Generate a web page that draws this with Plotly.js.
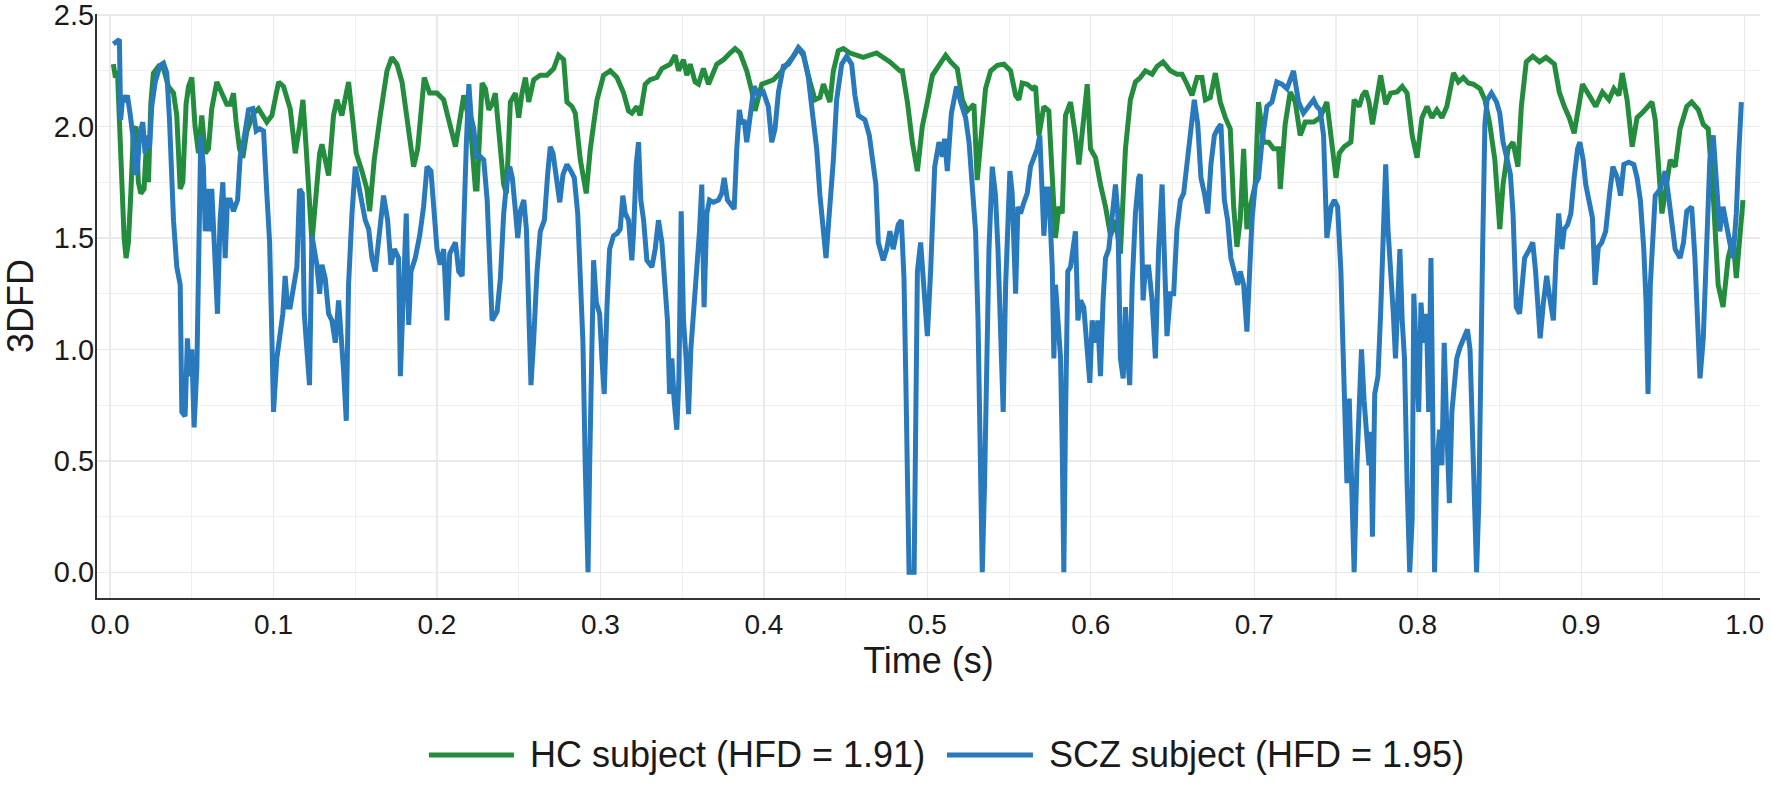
<!DOCTYPE html>
<html>
<head>
<meta charset="utf-8">
<script src="https://cdn.plot.ly/plotly-3.0.1.min.js"></script>
<style>
  html, body { margin: 0; padding: 0; background: #ffffff; }
  #chart { width: 1772px; height: 785px; }
</style>
</head>
<body>
<div id="chart"></div>
<script>
// ---- data: [time (s), 3DFD] ----
const seriesNames = ['HC subject (HFD = 1.91)', 'SCZ subject (HFD = 1.95)'];
const seriesColors = ['#238c3d', '#2979bd'];

const hcPoints = [
[0.002,2.28],[0.0033,2.22],[0.0045,2.25],[0.0057,2.00],[0.0071,1.75],[0.0086,1.50],[0.0098,1.41],[0.0112,1.48],[0.0127,1.70],[0.0143,1.98],
[0.0159,2.00],[0.0173,1.75],[0.0188,1.70],[0.0208,1.72],[0.0224,1.95],[0.0235,1.75],[0.0249,2.10],[0.0265,2.24],[0.0296,2.27],[0.0327,2.26],
[0.0357,2.18],[0.0388,2.15],[0.0408,2.05],[0.0429,1.72],[0.0445,1.75],[0.0465,2.10],[0.048,2.18],[0.05,2.22],[0.052,2.00],[0.0541,1.88],
[0.0561,2.05],[0.0582,1.88],[0.0602,1.90],[0.0622,2.08],[0.0653,2.20],[0.0684,2.15],[0.0714,2.10],[0.0735,2.10],[0.0755,2.15],[0.0771,2.02],
[0.0792,1.90],[0.0812,1.86],[0.0837,1.98],[0.0878,2.06],[0.0908,2.08],[0.0959,2.02],[0.099,2.05],[0.1031,2.20],[0.1061,2.18],[0.1102,2.08],
[0.1133,1.88],[0.1159,2.00],[0.118,2.12],[0.12,1.90],[0.122,1.62],[0.1235,1.48],[0.1255,1.65],[0.1282,1.88],[0.1296,1.92],[0.1316,1.85],
[0.1337,1.78],[0.1367,2.05],[0.1388,2.12],[0.1418,2.05],[0.1439,2.12],[0.1459,2.20],[0.1486,2.02],[0.1506,1.88],[0.1541,1.80],[0.1571,1.72],
[0.1588,1.62],[0.1616,1.85],[0.1653,2.05],[0.1694,2.25],[0.1724,2.31],[0.1755,2.28],[0.1786,2.20],[0.182,2.02],[0.1857,1.82],[0.1882,1.90],
[0.1902,2.05],[0.1922,2.22],[0.1955,2.15],[0.2,2.15],[0.2041,2.12],[0.2078,2.02],
[0.2113,1.91],[0.2164,2.14],[0.2205,2.00],[0.2235,1.72],[0.2245,1.72],[0.2276,2.195],[0.2296,2.17],[0.2317,2.075],[0.2337,2.10],[0.2357,2.15],
[0.2388,1.93],[0.2408,1.74],[0.2425,1.70],[0.2449,2.11],[0.248,2.15],[0.25,2.04],[0.252,2.15],[0.2541,2.22],[0.2561,2.11],[0.2592,2.21],
[0.2632,2.23],[0.2673,2.23],[0.2714,2.26],[0.2744,2.32],[0.2775,2.30],[0.2795,2.11],[0.2826,2.09],[0.2846,2.06],[0.2877,1.85],[0.2897,1.76],
[0.2913,1.70],[0.2938,1.90],[0.2979,2.12],[0.3019,2.23],[0.306,2.25],[0.3101,2.22],[0.3121,2.19],[0.3142,2.15],[0.3172,2.07],[0.3192,2.06],
[0.3223,2.09],[0.3243,2.05],[0.3274,2.19],[0.3304,2.21],[0.3345,2.22],[0.3376,2.26],[0.3427,2.28],[0.3457,2.32],[0.3478,2.25],[0.3508,2.30],
[0.3528,2.23],[0.3549,2.28],[0.3579,2.20],[0.36,2.19],[0.363,2.26],[0.3661,2.19],[0.3712,2.28],[0.3753,2.30],[0.3793,2.33],[0.3824,2.35],
[0.3854,2.33],[0.3895,2.25],[0.3926,2.16],[0.3946,2.07],[0.3987,2.19],[0.4017,2.20],[0.4058,2.21],[0.4099,2.24],[0.414,2.275],[0.418,2.315],
[0.4211,2.35],[0.4241,2.32],[0.4282,2.20],[0.4313,2.12],[0.4343,2.13],[0.4364,2.19],[0.4404,2.11],[0.4425,2.25],[0.4455,2.34],[0.4486,2.35],
[0.4527,2.33],[0.4608,2.31],[0.4689,2.33],[0.4771,2.29],[0.4832,2.25],[0.4847,2.25],
[0.4878,2.11],[0.4908,1.93],[0.4939,1.80],[0.4969,2.00],[0.5,2.11],[0.5031,2.23],[0.5071,2.275],[0.5112,2.32],[0.5143,2.29],[0.5183,2.26],
[0.5214,2.12],[0.5244,2.07],[0.5285,2.10],[0.5305,1.76],[0.5326,1.93],[0.5356,2.17],[0.5387,2.25],[0.5428,2.275],[0.5468,2.28],[0.5509,2.25],
[0.554,2.14],[0.556,2.12],[0.558,2.195],[0.5611,2.19],[0.5642,2.17],[0.5662,2.18],[0.5682,1.96],[0.5713,2.09],[0.5743,2.07],[0.5764,1.77],
[0.5784,1.50],[0.5804,1.64],[0.5825,1.61],[0.5845,2.05],[0.5876,2.11],[0.5906,1.96],[0.5927,1.83],[0.5957,2.04],[0.5978,2.19],[0.5998,1.90],
[0.6029,1.86],[0.6059,1.74],[0.609,1.64],[0.6121,1.51],[0.6151,1.58],[0.6181,1.43],[0.6212,1.90],[0.6242,2.12],[0.6273,2.20],[0.6303,2.22],
[0.6334,2.25],[0.6375,2.235],[0.6405,2.27],[0.6442,2.29],[0.6487,2.25],[0.6527,2.235],[0.6558,2.235],[0.6589,2.19],[0.6619,2.14],[0.665,2.22],
[0.668,2.22],[0.6701,2.12],[0.6731,2.13],[0.6762,2.24],[0.6792,2.11],[0.6823,2.04],[0.6843,2.01],[0.6853,1.99],[0.6874,1.64],[0.6894,1.46],
[0.6914,1.58],[0.6935,1.90],[0.6955,1.54],[0.6976,1.64],[0.7006,1.74],[0.7026,2.11],[0.7057,1.93],[0.7088,1.93],[0.7118,1.90],[0.7149,1.90],
[0.7159,1.72],[0.7189,2.01],[0.722,2.155],[0.7251,2.11],[0.7281,1.96],[0.7312,2.02],[0.7363,2.02],[0.7403,2.04],[0.7444,2.11],
[0.748,1.90],[0.75,1.77],[0.752,1.88],[0.7551,1.91],[0.7591,1.93],[0.7611,2.12],[0.7642,2.09],[0.7662,2.14],[0.7682,2.16],[0.7702,2.11],
[0.7723,2.01],[0.7743,2.09],[0.7773,2.23],[0.7804,2.10],[0.7834,2.15],[0.7874,2.155],[0.7905,2.18],[0.7935,2.15],[0.7966,1.96],[0.7996,1.86],
[0.8026,2.04],[0.8057,2.09],[0.8087,2.04],[0.8117,2.075],[0.8148,2.04],[0.8178,2.09],[0.8219,2.24],[0.8249,2.20],[0.8279,2.22],[0.831,2.195],
[0.834,2.19],[0.8381,2.17],[0.8411,2.12],[0.8441,2.01],[0.8472,1.85],[0.8502,1.54],[0.8522,1.74],[0.8553,1.90],[0.8583,1.93],[0.8613,1.82],
[0.8634,2.09],[0.8664,2.29],[0.8704,2.315],[0.8745,2.29],[0.8785,2.31],[0.8836,2.28],[0.8866,2.155],[0.8897,2.09],[0.8927,2.04],[0.8957,1.97],
[0.8988,2.09],[0.9008,2.19],[0.9049,2.14],[0.9089,2.09],[0.913,2.155],[0.917,2.12],[0.92,2.17],[0.9231,2.14],[0.9251,2.24],[0.9281,2.12],
[0.9312,1.91],[0.9342,2.04],[0.9372,2.06],[0.9403,2.09],[0.9433,2.11],[0.9453,2.03],[0.9474,1.77],[0.9494,1.61],[0.9514,1.70],[0.9545,1.85],
[0.9575,1.82],[0.9605,1.99],[0.9646,2.09],[0.9676,2.11],[0.9717,2.075],[0.9747,2.01],[0.9777,1.99],[0.9808,1.69],[0.9838,1.29],[0.9868,1.19],
[0.9899,1.41],[0.9929,1.50],[0.9949,1.32],[0.997,1.53],[0.999,1.67]
];

const sczPoints = [
[0.002,2.37],[0.0045,2.38],[0.0057,2.39],[0.0065,2.03],[0.0078,2.14],[0.0092,2.11],[0.0106,2.14],[0.0122,2.06],[0.0139,1.96],[0.0153,1.785],
[0.0167,1.80],[0.018,1.96],[0.0188,1.99],[0.02,2.02],[0.0214,1.88],[0.0224,1.96],[0.0241,1.90],[0.0255,2.09],[0.0276,2.20],[0.0306,2.275],
[0.0327,2.285],[0.0347,2.24],[0.0363,2.04],[0.0378,1.69],[0.0388,1.58],[0.0408,1.37],[0.0429,1.29],[0.0439,0.72],[0.0459,0.70],[0.0473,1.05],
[0.0486,0.88],[0.05,1.00],[0.0514,0.65],[0.0531,0.92],[0.0547,1.45],[0.0555,1.96],[0.0571,1.82],[0.0582,1.53],[0.0596,1.72],[0.0608,1.53],
[0.0622,1.72],[0.0643,1.38],[0.0657,1.16],[0.0673,1.58],[0.069,1.75],[0.0704,1.41],[0.0718,1.67],[0.0735,1.67],[0.0755,1.62],[0.078,1.67],
[0.0796,1.865],[0.0816,1.93],[0.0847,2.075],[0.0873,2.08],[0.0894,1.98],[0.0914,1.99],[0.0939,1.98],[0.0959,1.70],[0.0976,1.48],[0.099,1.05],
[0.1,0.72],[0.102,0.96],[0.1041,1.09],[0.1057,1.16],[0.1071,1.33],[0.1086,1.19],[0.1102,1.19],[0.1122,1.27],[0.1143,1.37],[0.1159,1.72],
[0.1176,1.70],[0.1188,1.16],[0.1204,0.96],[0.122,0.84],[0.1235,1.51],[0.1249,1.45],[0.1265,1.38],[0.1282,1.25],[0.1296,1.38],[0.1316,1.32],
[0.1337,1.16],[0.1357,1.13],[0.1378,1.03],[0.1398,1.22],[0.1412,1.09],[0.1429,0.90],[0.1445,0.68],[0.1459,1.29],[0.148,1.61],[0.15,1.82],
[0.152,1.74],[0.1541,1.67],[0.1561,1.58],[0.1582,1.54],[0.1602,1.41],[0.1622,1.35],[0.1643,1.51],[0.1673,1.69],[0.1698,1.58],[0.1718,1.38],
[0.1739,1.45],[0.1765,1.41],[0.1776,0.88],[0.1796,1.22],[0.1812,1.61],[0.1827,1.11],[0.1841,1.35],[0.1867,1.41],[0.1894,1.51],[0.1918,1.64],
[0.1939,1.82],[0.1963,1.80],[0.198,1.61],[0.2,1.45],[0.202,1.38],[0.2041,1.45],[0.2061,1.13],[0.2078,1.43],
[0.2113,1.48],[0.2133,1.35],[0.2154,1.33],[0.2164,1.61],[0.218,1.93],[0.2195,2.19],[0.2209,2.04],[0.2225,1.99],[0.2241,1.865],[0.2266,1.865],
[0.2286,1.85],[0.2307,1.67],[0.2323,1.38],[0.2337,1.13],[0.2368,1.17],[0.2388,1.32],[0.2408,1.61],[0.2425,1.74],[0.2445,1.82],[0.2461,1.77],
[0.248,1.62],[0.2494,1.50],[0.251,1.62],[0.2531,1.67],[0.2547,1.54],[0.2561,1.13],[0.2575,0.84],[0.2592,1.05],[0.2612,1.35],[0.2632,1.53],
[0.2657,1.58],[0.2677,1.785],[0.2693,1.91],[0.271,1.88],[0.273,1.77],[0.2751,1.66],[0.2771,1.785],[0.2795,1.83],[0.282,1.80],[0.284,1.77],
[0.2861,1.61],[0.2877,1.35],[0.2893,1.03],[0.2907,0.48],[0.2918,0.06],[0.2924,0.0],[0.2934,0.48],[0.2948,0.96],[0.2958,1.40],[0.2975,1.21],
[0.2995,1.16],[0.3009,0.96],[0.3023,0.80],[0.304,1.19],[0.3056,1.45],[0.308,1.51],[0.3101,1.52],[0.3121,1.54],[0.3137,1.69],[0.3152,1.61],
[0.3172,1.58],[0.3192,1.40],[0.3203,1.53],[0.3219,1.83],[0.3233,1.93],[0.3247,1.67],[0.3264,1.58],[0.3284,1.40],[0.3315,1.37],[0.3335,1.45],
[0.3355,1.58],[0.3376,1.48],[0.3396,1.22],[0.341,1.13],[0.3423,0.80],[0.3437,0.96],[0.3451,0.77],[0.3467,0.64],[0.348,0.87],[0.3494,1.62],
[0.3508,1.13],[0.3524,0.96],[0.3539,0.71],[0.3553,1.00],[0.3569,1.16],[0.359,1.35],[0.3606,1.53],[0.362,1.74],[0.3634,1.19],[0.3651,1.61],
[0.3667,1.67],[0.3691,1.66],[0.3722,1.67],[0.3742,1.70],[0.3757,1.77],[0.3777,1.67],[0.3803,1.64],[0.3818,1.63],[0.3834,1.90],[0.385,2.075],
[0.3865,2.01],[0.3879,2.03],[0.3895,1.93],[0.3915,2.04],[0.394,2.18],[0.3966,2.14],[0.3997,2.155],[0.4027,2.09],[0.4048,1.93],[0.4068,1.99],
[0.4089,2.155],[0.4119,2.27],[0.415,2.28],[0.418,2.315],[0.4211,2.355],[0.4241,2.33],[0.4272,2.22],[0.4302,2.03],[0.4323,1.90],[0.4343,1.69],
[0.4364,1.50],[0.438,1.41],[0.44,1.61],[0.4425,1.85],[0.4445,2.12],[0.4476,2.28],[0.4506,2.315],[0.4537,2.28],[0.4557,2.14],[0.4578,2.05],
[0.4618,2.03],[0.4645,1.96],[0.4665,1.85],[0.4685,1.74],[0.47,1.48],[0.473,1.40],[0.4751,1.45],[0.4771,1.53],[0.4791,1.45],[0.4822,1.56],
[0.4841,1.58],[0.4857,1.32],[0.4868,0.88],[0.4878,0.43],[0.4888,0.0],[0.4919,0.0],[0.4929,0.64],[0.4939,1.35],[0.4959,1.48],[0.498,1.22],
[0.5,1.06],[0.502,1.35],[0.5045,1.82],[0.5071,1.93],[0.5092,1.865],[0.5106,1.945],[0.5122,1.80],[0.5147,2.06],[0.5179,2.18],[0.5204,2.11],
[0.5234,2.04],[0.5255,1.93],[0.5275,1.74],[0.5295,1.53],[0.531,1.13],[0.5326,0.56],[0.5336,0.0],[0.535,0.40],[0.5363,0.96],[0.5377,1.45],
[0.5397,1.82],[0.5417,1.69],[0.5432,1.45],[0.5448,1.13],[0.5464,0.72],[0.5479,1.29],[0.5493,1.61],[0.5505,1.80],[0.5519,1.70],[0.554,1.25],
[0.5554,1.64],[0.557,1.61],[0.5591,1.66],[0.5611,1.70],[0.5631,1.82],[0.5652,1.865],[0.5672,1.90],[0.5688,1.96],[0.5703,1.70],[0.5713,1.51],
[0.5729,1.72],[0.5743,1.72],[0.5764,1.37],[0.5774,0.96],[0.5784,1.29],[0.5798,1.13],[0.5815,0.96],[0.5825,0.56],[0.5835,0.0],[0.5845,0.68],
[0.5859,1.35],[0.5876,1.37],[0.5892,1.45],[0.5906,1.53],[0.5921,1.13],[0.5937,1.22],[0.5957,1.19],[0.5978,0.96],[0.5994,0.85],[0.6008,1.13],
[0.6029,1.03],[0.6043,1.13],[0.6059,0.88],[0.6075,1.22],[0.609,1.41],[0.611,1.45],[0.6131,1.61],[0.6151,1.74],[0.6165,1.61],[0.6181,0.96],
[0.6198,0.87],[0.6212,1.19],[0.6226,0.96],[0.6238,0.84],[0.6253,1.29],[0.6273,1.61],[0.6293,1.77],[0.6303,1.785],[0.632,1.22],[0.6334,1.37],
[0.6354,1.37],[0.6375,1.22],[0.6395,0.96],[0.6415,1.45],[0.6436,1.74],[0.645,1.48],[0.6466,1.06],[0.6487,1.25],[0.6507,1.25],[0.6527,1.54],
[0.6548,1.67],[0.6568,1.70],[0.6589,1.85],[0.6613,2.01],[0.6633,2.12],[0.6654,2.01],[0.6674,1.77],[0.6695,1.70],[0.6715,1.61],[0.6735,1.83],
[0.6756,1.96],[0.6776,1.99],[0.6796,2.01],[0.6817,1.67],[0.6837,1.58],[0.6857,1.41],[0.6878,1.35],[0.6898,1.29],[0.6914,1.35],[0.6935,1.29],
[0.6955,1.08],[0.6971,1.29],[0.6986,1.58],[0.7006,1.74],[0.7026,1.77],[0.7047,1.93],[0.7077,2.09],[0.7108,2.11],[0.7138,2.20],[0.7169,2.19],
[0.72,2.17],[0.724,2.25],[0.7271,2.11],[0.7301,2.06],[0.7332,2.09],[0.7363,2.12],[0.7383,2.09],[0.7403,2.075],[0.7424,1.96],[0.7444,1.50],
[0.747,1.64],[0.749,1.67],[0.751,1.64],[0.753,1.35],[0.754,1.08],[0.7551,0.80],[0.7567,0.40],[0.7581,0.78],[0.7595,0.47],[0.7611,0.0],
[0.7628,0.48],[0.7642,0.72],[0.7656,1.00],[0.7672,0.77],[0.7688,0.64],[0.7702,0.48],[0.7713,0.63],[0.7723,0.16],[0.7737,0.80],[0.7757,0.88],
[0.7773,1.16],[0.7789,1.53],[0.7804,1.83],[0.7818,1.54],[0.7834,1.37],[0.785,1.17],[0.7864,0.96],[0.7874,1.21],[0.7891,1.45],[0.7905,1.13],
[0.7919,0.96],[0.7935,0.40],[0.7951,0.0],[0.7966,0.24],[0.7976,1.25],[0.7992,0.96],[0.8006,0.72],[0.802,1.21],[0.8036,1.03],[0.8053,1.16],
[0.8067,0.72],[0.8081,1.41],[0.8093,0.64],[0.8103,0.0],[0.8117,0.48],[0.8134,0.64],[0.8148,0.48],[0.8162,1.03],[0.8178,0.64],[0.8194,0.31],
[0.8209,0.72],[0.8223,0.84],[0.8239,0.96],[0.8259,1.01],[0.8283,1.05],[0.8304,1.09],[0.832,1.00],[0.8336,0.56],[0.835,0.24],[0.836,0.0],
[0.8374,0.32],[0.8385,0.96],[0.8397,1.45],[0.8411,2.01],[0.8425,2.12],[0.8451,2.15],[0.8482,2.11],[0.8502,2.06],[0.8522,1.93],[0.8543,1.865],
[0.8567,1.785],[0.8583,1.61],[0.8593,1.29],[0.8603,1.19],[0.8623,1.16],[0.864,1.32],[0.8654,1.41],[0.8684,1.45],[0.8704,1.48],[0.8721,1.35],
[0.8735,1.16],[0.8749,1.05],[0.8769,1.21],[0.8789,1.33],[0.881,1.22],[0.883,1.13],[0.8846,1.41],[0.8862,1.61],[0.8883,1.45],[0.8897,1.54],
[0.8917,1.56],[0.8937,1.61],[0.8957,1.77],[0.8978,1.90],[0.8992,1.93],[0.9012,1.85],[0.9028,1.74],[0.9049,1.66],[0.9069,1.59],[0.9085,1.29],
[0.9105,1.46],[0.9126,1.48],[0.915,1.53],[0.9174,1.70],[0.9194,1.82],[0.9221,1.77],[0.9241,1.69],[0.9261,1.83],[0.9291,1.84],[0.9322,1.83],
[0.9342,1.77],[0.9362,1.67],[0.9383,1.45],[0.9397,1.21],[0.9409,0.80],[0.9423,1.29],[0.9437,1.53],[0.9453,1.69],[0.9484,1.72],[0.9514,1.80],
[0.9534,1.69],[0.9555,1.58],[0.9575,1.45],[0.9605,1.41],[0.9626,1.48],[0.9646,1.62],[0.9676,1.64],[0.9696,1.41],[0.9713,1.13],[0.9727,0.87],
[0.9747,1.05],[0.9767,1.45],[0.9787,1.85],[0.9808,1.96],[0.9828,1.74],[0.9848,1.53],[0.9868,1.64],[0.9889,1.54],[0.9909,1.48],[0.9929,1.41],
[0.9949,1.61],[0.9964,1.88],[0.998,2.11]
];

// ---- tick labels ----
const xTickVals   = [0, 0.1, 0.2, 0.3, 0.4, 0.5, 0.6, 0.7, 0.8, 0.9, 1.0];
const xTickLabels = ['0.0','0.1','0.2','0.3','0.4','0.5','0.6','0.7','0.8','0.9','1.0'];
const xMinorVals  = [0.05, 0.15, 0.25, 0.35, 0.45, 0.55, 0.65, 0.75, 0.85, 0.95];
const yTickVals   = [0, 0.5, 1.0, 1.5, 2.0, 2.5];
const yTickLabels = ['0.0','0.5','1.0','1.5','2.0','2.5'];
const yMinorVals  = [0.25, 0.75, 1.25, 1.75, 2.25];

const FONT = 'Liberation Sans, Arial, Helvetica, sans-serif';
const allPoints = [hcPoints, sczPoints];

const traces = allPoints.map((pts, i) => ({
  type: 'scatter',
  mode: 'lines',
  name: seriesNames[i],
  x: pts.map(p => p[0]),
  y: pts.map(p => p[1]),
  line: { color: seriesColors[i], width: 5 },
  hoverinfo: 'x+y+name'
}));

// custom legend (horizontal, centred under the plot)
const legendY = -0.2688;
const legendItems = [
  { x0: 0.1996, x1: 0.2507, tx: 0.2592 },
  { x0: 0.5111, x1: 0.5628, tx: 0.5710 }
];
const shapes = legendItems.map((it, i) => ({
  type: 'line', xref: 'paper', yref: 'paper',
  x0: it.x0, x1: it.x1, y0: legendY, y1: legendY,
  line: { color: seriesColors[i], width: 5 }
}));
const annotations = legendItems.map((it, i) => ({
  xref: 'paper', yref: 'paper', x: it.tx, y: legendY,
  xanchor: 'left', yanchor: 'middle', showarrow: false,
  text: seriesNames[i],
  font: { family: FONT, size: 36, color: '#1a1a1a' }
}));

const layout = {
  width: 1772, height: 785,
  margin: { l: 97, r: 12, t: 14, b: 187, pad: 0 },
  paper_bgcolor: '#ffffff', plot_bgcolor: '#ffffff',
  showlegend: false,
  font: { family: FONT, color: '#1a1a1a' },
  xaxis: {
    range: [-0.008, 1.0094],
    tickmode: 'array', tickvals: xTickVals, ticktext: xTickLabels,
    ticks: '', showgrid: true, gridcolor: '#e9e9e9', gridwidth: 1.3,
    minor: { tickmode: 'array', tickvals: xMinorVals, showgrid: true, gridcolor: '#efefef', gridwidth: 1.1, ticks: '' },
    showline: true, linecolor: '#333333', linewidth: 2, zeroline: false,
    tickfont: { family: FONT, size: 28, color: '#1a1a1a' },
    ticklabeloverflow: 'allow',
    title: { text: 'Time (s)', font: { family: FONT, size: 36, color: '#1a1a1a' }, standoff: 8 },
    automargin: false, fixedrange: true
  },
  yaxis: {
    range: [-0.1153, 2.505],
    tickmode: 'array', tickvals: yTickVals, ticktext: yTickLabels,
    ticks: '', showgrid: true, gridcolor: '#e9e9e9', gridwidth: 1.3,
    minor: { tickmode: 'array', tickvals: yMinorVals, showgrid: true, gridcolor: '#efefef', gridwidth: 1.1, ticks: '' },
    showline: true, linecolor: '#333333', linewidth: 2, zeroline: false,
    tickfont: { family: FONT, size: 29, color: '#1a1a1a' },
    ticklabeloverflow: 'allow',
    ticklabelstandoff: -5,
    title: { text: '3DFD', font: { family: FONT, size: 36, color: '#1a1a1a' }, standoff: 11 },
    automargin: false, fixedrange: true
  },
  shapes: shapes,
  annotations: annotations
};

Plotly.newPlot('chart', traces, layout, { displayModeBar: false, staticPlot: true });
</script>
</body>
</html>
